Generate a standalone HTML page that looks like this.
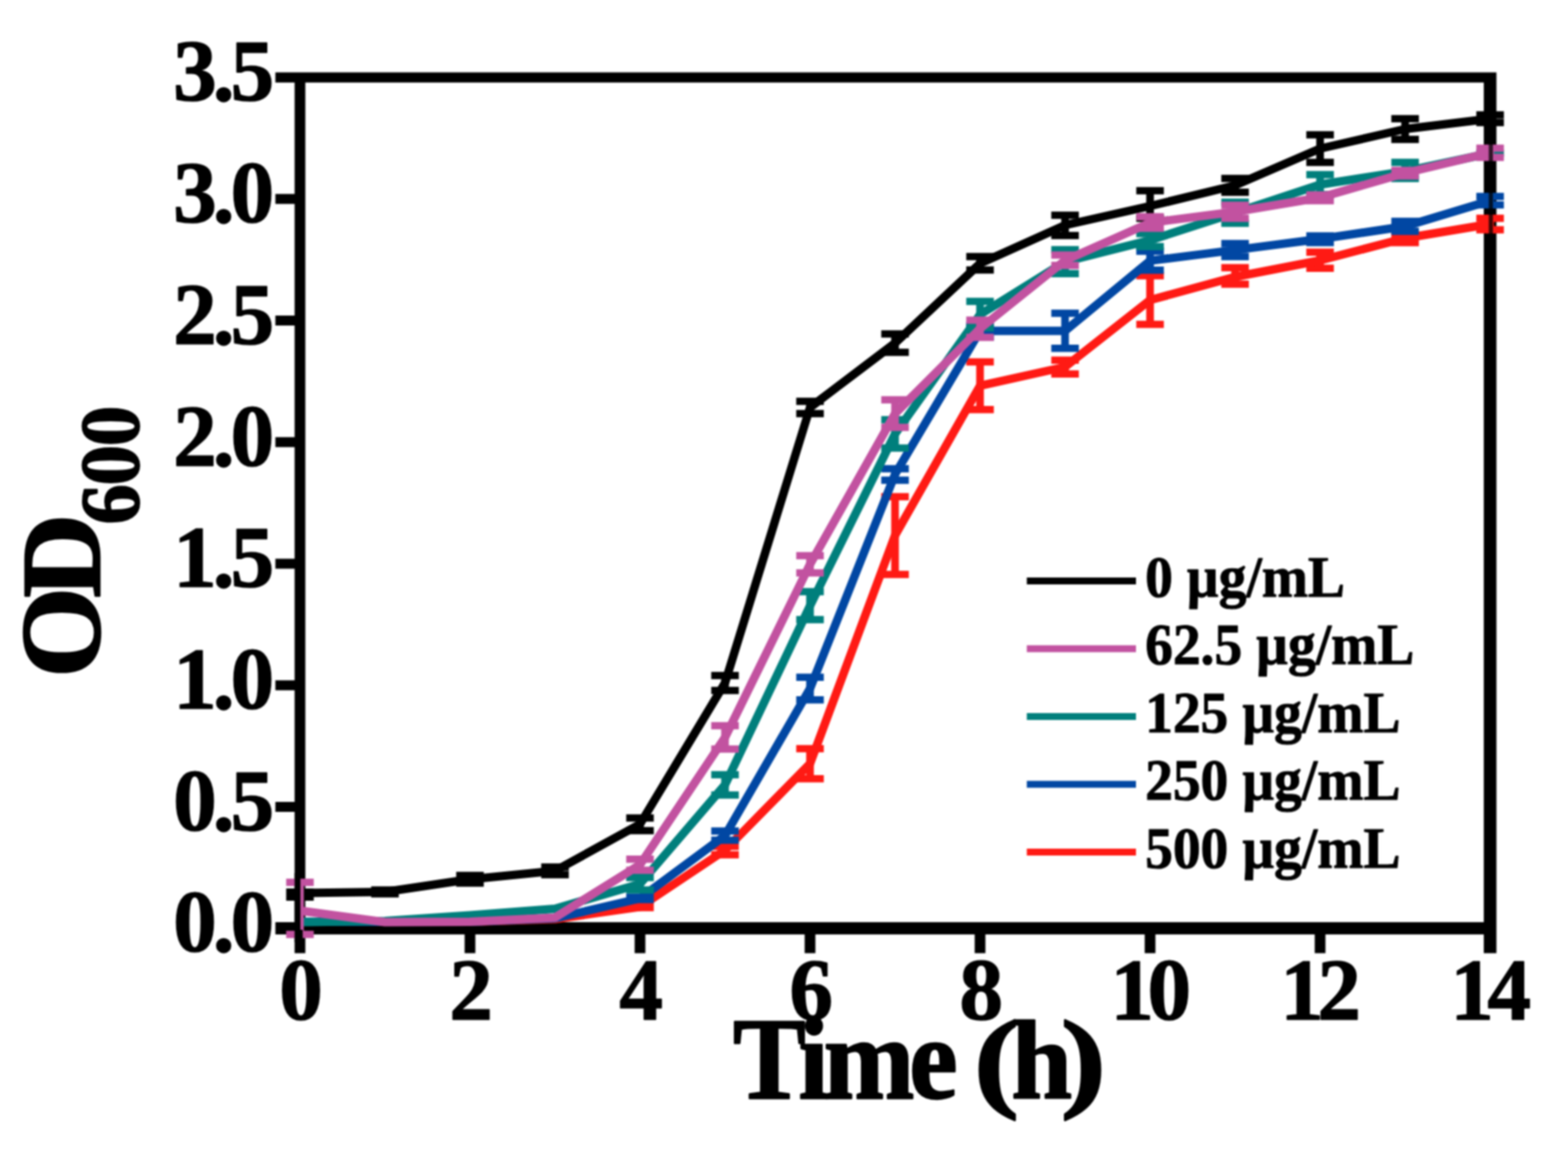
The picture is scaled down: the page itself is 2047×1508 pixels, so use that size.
<!DOCTYPE html>
<html><head><meta charset="utf-8"><title>OD600 growth curve</title>
<style>html,body{margin:0;padding:0;background:#fff;overflow:hidden}svg{display:block;filter:blur(0.9px)}</style></head>
<body><svg width="2047" height="1508" viewBox="0 0 2047 1508">
<rect width="2047" height="1508" fill="#fff"/>
<g id="axes" fill="#000">
<path d="M359.5 94.39h1594.07v13.4h-1594.07zM359.5 1204.1h1594.07v16h-1594.07zM384.6 94.39h14v1150.11h-14zM1937.07 94.39h16.5v1150.11h-16.5zM359.5 1046.88h25.6v13h-25.6zM359.5 888.17h25.6v13h-25.6zM359.5 729.45h25.6v13h-25.6zM359.5 570.74h25.6v13h-25.6zM359.5 412.02h25.6v13h-25.6zM359.5 253.31h25.6v13h-25.6zM606.56 1219.6h14v24.9h-14zM828.52 1219.6h14v24.9h-14zM1050.48 1219.6h14v24.9h-14zM1272.44 1219.6h14v24.9h-14zM1494.4 1219.6h14v24.9h-14zM1716.36 1219.6h14v24.9h-14z"/></g>
<g stroke="#000000" fill="none">
<path d="M391.6 1164.75V1171.25M502.58 1162V1167M613.56 1143V1153M724.54 1132V1142M835.52 1068V1084.5M946.5 882V901.5M1057.48 524V540M1168.46 436V460M1279.44 335V352.6M1390.42 281V307.5M1501.4 249V285M1612.38 233V251M1723.36 176V212M1834.34 155V182M1945.32 150V160" stroke-width="10"/>
<path d="M373.6 1164.75H409.6M373.6 1171.25H409.6M484.58 1162H520.58M484.58 1167H520.58M595.56 1143H631.56M595.56 1153H631.56M706.54 1132H742.54M706.54 1142H742.54M817.52 1068H853.52M817.52 1084.5H853.52M928.5 882H964.5M928.5 901.5H964.5M1039.48 524H1075.48M1039.48 540H1075.48M1150.46 436H1186.46M1150.46 460H1186.46M1261.44 335H1297.44M1261.44 352.6H1297.44M1372.42 281H1408.42M1372.42 307.5H1408.42M1483.4 249H1519.4M1483.4 285H1519.4M1594.38 233H1630.38M1594.38 251H1630.38M1705.36 176H1741.36M1705.36 212H1741.36M1816.34 155H1852.34M1816.34 182H1852.34M1927.32 150H1963.32M1927.32 160H1963.32" stroke-width="9.5"/>
<path d="M391.6 1166 L502.58 1164.5 L613.56 1148 L724.54 1137 L835.52 1076 L946.5 891.7 L1057.48 532 L1168.46 448 L1279.44 344 L1390.42 294 L1501.4 269 L1612.38 242 L1723.36 194 L1834.34 168.5 L1945.32 155" stroke-width="11" stroke-linejoin="round"/>
</g>
<g stroke="#FF1A14" fill="none">
<path d="M835.52 1183V1185M946.5 1105V1116M1057.48 977.6V1016.8M1168.46 648.6V750M1279.44 472.4V534.8M1390.42 470.3V488.3M1501.4 360V423.5M1612.38 349.5V371M1723.36 329.3V350.3M1834.34 306.4V316.7M1945.32 285V300" stroke-width="10"/>
<path d="M817.52 1183H853.52M817.52 1185H853.52M928.5 1105H964.5M928.5 1116H964.5M1039.48 977.6H1075.48M1039.48 1016.8H1075.48M1150.46 648.6H1186.46M1150.46 750H1186.46M1261.44 472.4H1297.44M1261.44 534.8H1297.44M1372.42 470.3H1408.42M1372.42 488.3H1408.42M1483.4 360H1519.4M1483.4 423.5H1519.4M1594.38 349.5H1630.38M1594.38 371H1630.38M1705.36 329.3H1741.36M1705.36 350.3H1741.36M1816.34 306.4H1852.34M1816.34 316.7H1852.34M1927.32 285H1963.32M1927.32 300H1963.32" stroke-width="9.5"/>
<path d="M391.6 1203.5 L502.58 1203.5 L613.56 1203.5 L724.54 1200 L835.52 1184 L946.5 1110 L1057.48 997 L1168.46 699 L1279.44 503.6 L1390.42 479 L1501.4 391.7 L1612.38 361.5 L1723.36 340 L1834.34 311 L1945.32 292.5" stroke-width="11" stroke-linejoin="round"/>
</g>
<g stroke="#0147A3" fill="none">
<path d="M835.52 1171.5V1174.5M946.5 1085V1097M1057.48 884.3V913.8M1168.46 612V627M1279.44 425V440M1390.42 409V454.7M1501.4 328V352.7M1612.38 318V335M1723.36 308V316.7M1834.34 289V302M1945.32 256.5V267.5" stroke-width="10"/>
<path d="M817.52 1171.5H853.52M817.52 1174.5H853.52M928.5 1085H964.5M928.5 1097H964.5M1039.48 884.3H1075.48M1039.48 913.8H1075.48M1150.46 612H1186.46M1150.46 627H1186.46M1261.44 425H1297.44M1261.44 440H1297.44M1372.42 409H1408.42M1372.42 454.7H1408.42M1483.4 328H1519.4M1483.4 352.7H1519.4M1594.38 318H1630.38M1594.38 335H1630.38M1705.36 308H1741.36M1705.36 316.7H1741.36M1816.34 289H1852.34M1816.34 302H1852.34M1927.32 256.5H1963.32M1927.32 267.5H1963.32" stroke-width="9.5"/>
<path d="M391.6 1203.5 L502.58 1203.5 L613.56 1203.5 L724.54 1199 L835.52 1173 L946.5 1091 L1057.48 899 L1168.46 619.3 L1279.44 432 L1390.42 432 L1501.4 340.4 L1612.38 326.4 L1723.36 312 L1834.34 295.5 L1945.32 262" stroke-width="11" stroke-linejoin="round"/>
</g>
<g stroke="#007F7C" fill="none">
<path d="M835.52 1145.75V1162M946.5 1011.5V1038M1057.48 772.6V809M1168.46 548V585M1279.44 393.4V428M1390.42 326V357.2M1501.4 305V322M1612.38 264V291.5M1723.36 228V254M1834.34 212V233M1945.32 200V200.01" stroke-width="10"/>
<path d="M817.52 1145.75H853.52M817.52 1162H853.52M928.5 1011.5H964.5M928.5 1038H964.5M1039.48 772.6H1075.48M1039.48 809H1075.48M1150.46 548H1186.46M1150.46 585H1186.46M1261.44 393.4H1297.44M1261.44 428H1297.44M1372.42 326H1408.42M1372.42 357.2H1408.42M1483.4 305H1519.4M1483.4 322H1519.4M1594.38 264H1630.38M1594.38 291.5H1630.38M1705.36 228H1741.36M1705.36 254H1741.36M1816.34 212H1852.34M1816.34 233H1852.34M1927.32 200H1963.32M1927.32 200.01H1963.32" stroke-width="9.5"/>
<path d="M391.6 1204 L502.58 1202.5 L613.56 1195 L724.54 1186.5 L835.52 1154 L946.5 1024.7 L1057.48 790.8 L1168.46 566.5 L1279.44 410.7 L1390.42 341.7 L1501.4 313.7 L1612.38 277.7 L1723.36 241 L1834.34 223.6 L1945.32 200" stroke-width="11" stroke-linejoin="round"/>
</g>
<g stroke="#C252A0" fill="none">
<path d="M391.6 1152V1220M835.52 1121.75V1136.25M946.5 947.5V978M1057.48 725.5V748M1168.46 522V558M1279.44 418V440.5M1390.42 333V346.5M1501.4 283V298M1612.38 268V285M1723.36 254.5V262M1834.34 222.5V229.7M1945.32 193.5V205.4" stroke-width="10"/>
<path d="M373.6 1152H409.6M373.6 1220H409.6M817.52 1121.75H853.52M817.52 1136.25H853.52M928.5 947.5H964.5M928.5 978H964.5M1039.48 725.5H1075.48M1039.48 748H1075.48M1150.46 522H1186.46M1150.46 558H1186.46M1261.44 418H1297.44M1261.44 440.5H1297.44M1372.42 333H1408.42M1372.42 346.5H1408.42M1483.4 283H1519.4M1483.4 298H1519.4M1594.38 268H1630.38M1594.38 285H1630.38M1705.36 254.5H1741.36M1705.36 262H1741.36M1816.34 222.5H1852.34M1816.34 229.7H1852.34M1927.32 193.5H1963.32M1927.32 205.4H1963.32" stroke-width="9.5"/>
<path d="M391.6 1189 L502.58 1204 L613.56 1203.5 L724.54 1198 L835.52 1129 L946.5 962.7 L1057.48 736.8 L1168.46 540 L1279.44 429 L1390.42 340 L1501.4 290.7 L1612.38 276.5 L1723.36 258 L1834.34 226 L1945.32 199.4" stroke-width="11" stroke-linejoin="round"/>
</g>
<rect x="1943.52" y="188" width="5.5" height="118" fill="#000" fill-opacity="0.75"/>
<path d="M384.6 1140H392.2V1230H384.6zM391.6 1214H395.2V1225.5H391.6z" fill="#000"/>
<g font-family="'Liberation Serif', serif" font-weight="bold" stroke="#000" stroke-width="1.5" stroke-linejoin="round" font-size="114" letter-spacing="-5.2">
<text id="yl0" x="226" y="1242.4">0.0</text>
<text id="yl1" x="226" y="1083.68">0.5</text>
<text id="yl2" x="226" y="924.97">1.0</text>
<text id="yl3" x="226" y="766.25">1.5</text>
<text id="yl4" x="226" y="607.54">2.0</text>
<text id="yl5" x="226" y="448.82">2.5</text>
<text id="yl6" x="226" y="290.11">3.0</text>
<text id="yl7" x="226" y="131.39">3.5</text>
</g>
<g font-family="'Liberation Serif', serif" font-weight="bold" stroke="#000" stroke-width="1.5" stroke-linejoin="round" font-size="114" letter-spacing="-8.5">
<text id="xl0" x="364.6" y="1330.5">0</text>
<text id="xl1" x="586.56" y="1330.5">2</text>
<text id="xl2" x="808.52" y="1330.5">4</text>
<text id="xl3" x="1030.48" y="1330.5">6</text>
<text id="xl4" x="1252.44" y="1330.5">8</text>
<text id="xl5" x="1449.4" y="1330.5">10</text>
<text id="xl6" x="1671.36" y="1330.5">12</text>
<text id="xl7" x="1893.32" y="1330.5">14</text>
</g>
<g id="tx" font-family="'Liberation Serif', serif" font-weight="bold" stroke="#000" stroke-width="2.5" stroke-linejoin="round">
<text transform="translate(956.9 1433.5) scale(0.93 1)" font-size="153" letter-spacing="-7.3">Time</text>
<text transform="translate(1271.3 1432.3) scale(1.23 1)" font-size="144.5" letter-spacing="0">(</text>
<text transform="translate(1320.3 1433.5) scale(0.97 1)" font-size="147" letter-spacing="0">h</text>
<text transform="translate(1384.8 1432.3) scale(1.23 1)" font-size="144.5" letter-spacing="0">)</text>
</g>
<g id="ty" font-family="'Liberation Serif', serif" font-weight="bold" transform="translate(129.5 885) rotate(-90)"><text id="tyOD" stroke="#000" stroke-width="2.5" stroke-linejoin="round" transform="scale(1.03 1)" font-size="148" letter-spacing="-14">OD</text><text id="ty600" stroke="#000" stroke-width="2" stroke-linejoin="round" transform="translate(200 51) scale(0.955 1)" font-size="111" letter-spacing="-2">600</text></g>
<path id="ll0" d="M1340.5 758.5H1483" stroke="#000000" stroke-width="9"/>
<path id="ll1" d="M1340.5 847H1483" stroke="#C252A0" stroke-width="9"/>
<path id="ll2" d="M1340.5 935.5H1483" stroke="#007F7C" stroke-width="9"/>
<path id="ll3" d="M1340.5 1024H1483" stroke="#0147A3" stroke-width="9"/>
<path id="ll4" d="M1340.5 1112.5H1483" stroke="#FF1A14" stroke-width="9"/>
<text id="lt0" font-family="'Liberation Serif', serif" font-weight="bold" stroke="#000" stroke-width="1.2" stroke-linejoin="round" transform="translate(1495 778.8) scale(0.94 1)" font-size="77" letter-spacing="0">0 µg/mL</text>
<text id="lt1" font-family="'Liberation Serif', serif" font-weight="bold" stroke="#000" stroke-width="1.2" stroke-linejoin="round" transform="translate(1495 867.3) scale(0.94 1)" font-size="77" letter-spacing="0">62.5 µg/mL</text>
<text id="lt2" font-family="'Liberation Serif', serif" font-weight="bold" stroke="#000" stroke-width="1.2" stroke-linejoin="round" transform="translate(1495 955.8) scale(0.94 1)" font-size="77" letter-spacing="0">125 µg/mL</text>
<text id="lt3" font-family="'Liberation Serif', serif" font-weight="bold" stroke="#000" stroke-width="1.2" stroke-linejoin="round" transform="translate(1495 1044.3) scale(0.94 1)" font-size="77" letter-spacing="0">250 µg/mL</text>
<text id="lt4" font-family="'Liberation Serif', serif" font-weight="bold" stroke="#000" stroke-width="1.2" stroke-linejoin="round" transform="translate(1495 1132.8) scale(0.94 1)" font-size="77" letter-spacing="0">500 µg/mL</text>
</svg></body></html>
